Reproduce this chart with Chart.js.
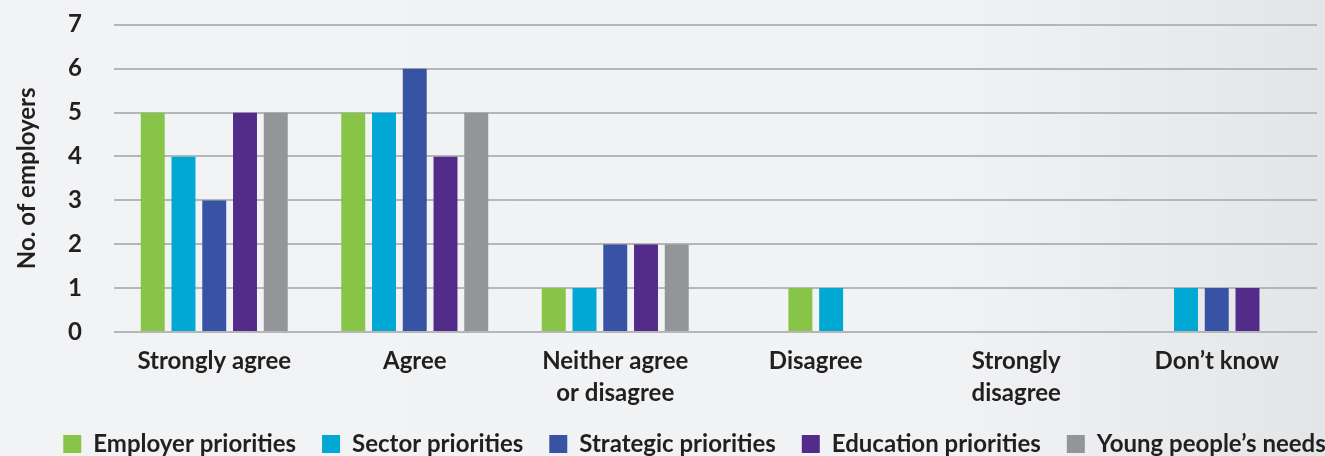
<!DOCTYPE html>
<html>
<head>
<meta charset="utf-8">
<script src="https://cdn.jsdelivr.net/npm/chart.js@4.4.0/dist/chart.umd.min.js"></script>
<style>
  html, body { margin: 0; padding: 0; }
  body {
    width: 1325px; height: 456px; overflow: hidden;
    background: linear-gradient(to right, #f2f3f5 0%, #f1f2f4 72%, #e4e5e7 100%);
  }
  #wrap { position: relative; width: 1325px; height: 456px; }
</style>
</head>
<body>
<div id="wrap"><canvas id="chart"></canvas></div>
<script>
// Survey responses: number of employers per answer, by priority type
const categories = [
  'Strongly agree',
  'Agree',
  ['Neither agree', 'or disagree'],
  'Disagree',
  ['Strongly', 'disagree'],
  'Don\u2019t know'
];
const employerPriorities  = [5, 5, 1, 1, null, null];
const sectorPriorities    = [4, 5, 1, 1, null, 1];
const strategicPriorities = [3, 6, 2, null, null, 1];
const educationPriorities = [5, 4, 2, null, null, 1];
const youngPeoplesNeeds   = [5, 5, 2, null, null, null];

const seriesNames = [
  'Employer priorities',
  'Sector priorities',
  'Strategic priorities',
  'Education priorities',
  'Young people\u2019s needs'
];
const seriesValues = [employerPriorities, sectorPriorities, strategicPriorities, educationPriorities, youngPeoplesNeeds];
const seriesColors = ['#87c448', '#00a8d3', '#3953a4', '#522c88', '#939598'];

const textColor = '#231f20';
Chart.defaults.font.family = 'Lato, "Open Sans", sans-serif';
Chart.defaults.font.weight = 'bold';
Chart.defaults.font.size = 24;
Chart.defaults.color = textColor;

const datasets = seriesNames.map((name, i) => ({
  label: name,
  data: seriesValues[i],
  backgroundColor: seriesColors[i],
  // transparent side borders leave a small gap between neighbouring bars
  borderColor: 'rgba(0,0,0,0)',
  borderWidth: { left: 3.4, right: 3.4, top: 0, bottom: 0 },
  borderSkipped: false,
  barThickness: 30.75,
  inflateAmount: 0
}));

// nudges the legend row after layout
const legendOffset = {
  id: 'legendOffset',
  afterLayout(chart, args, opts) {
    const lg = chart.legend;
    if (!lg) return;
    lg.left += opts.dx; lg.right += opts.dx;
    lg.top += opts.dy; lg.bottom += opts.dy;
  }
};

new Chart(document.getElementById('chart'), {
  type: 'bar',
  data: { labels: categories, datasets },
  plugins: [legendOffset],
  options: {
    responsive: true,
    maintainAspectRatio: false,
    animation: false,
    skipNull: true,
    layout: { padding: { top: 24.7, right: 8, bottom: -12, left: 0 } },
    plugins: {
      tooltip: { enabled: false },
      legendOffset: { dx: 36, dy: -2 },
      legend: {
        position: 'bottom',
        labels: {
          boxWidth: 18,
          boxHeight: 18,
          padding: 26,
          color: textColor,
          font: { size: 24, weight: 'bold' }
        }
      }
    },
    scales: {
      x: {
        grid: { display: false },
        border: { display: false },
        ticks: {
          color: textColor,
          padding: 6,
          maxRotation: 0,
          autoSkip: false,
          font: { size: 24, weight: 'bold', lineHeight: 1.3 }
        },
        afterFit(scale) { scale.height = 76; }
      },
      y: {
        min: 0,
        max: 7,
        grid: { color: '#b5b6b8', lineWidth: 2, drawTicks: true, tickLength: 24, tickColor: 'rgba(0,0,0,0)' },
        border: { display: false },
        ticks: {
          stepSize: 1,
          padding: 8,
          color: textColor,
          font: { size: 24, weight: 'bold' }
        },
        title: {
          display: true,
          text: 'No. of employers',
          color: textColor,
          padding: { top: 13, bottom: 0 },
          font: { size: 24, weight: 'bold' }
        },
        afterFit(scale) { scale.width = 114; }
      }
    }
  }
});
</script>
</body>
</html>
